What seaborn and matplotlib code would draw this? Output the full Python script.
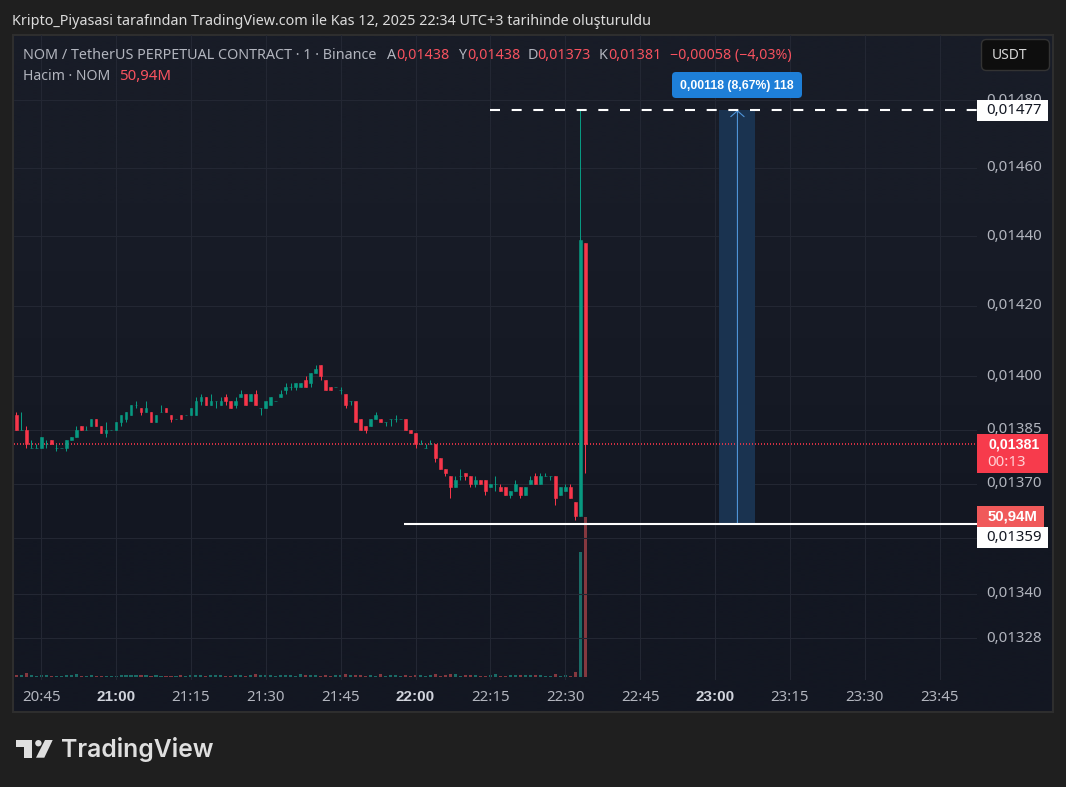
import numpy as np
import pandas as pd
import seaborn as sns
import matplotlib.pyplot as plt
from matplotlib.patches import Rectangle, FancyBboxPatch, Polygon, Circle
from matplotlib.ticker import NullLocator, FixedLocator

# candle data, 20:40 -> 22:34, prices in 1e-5 USDT
opens = [1389,1385,1385,1380,1380,1380,1381,1382,1380,1380,1380,1382,1383,1386,1385,1386,1388,1386,1384,1385,
         1385,1387,1388,1389,1392,1391,1390,1390,1387,1390,1391,1389,1388,1389,1389,1389,1389,1393,1394,1392,
         1393,1392,1394,1393,1392,1394,1395,1393,1395,1391,1391,1392,1393,1394,1396,1397,1397,1397,1399,1398,
         1401,1403,1399,1397,1397,1396,1395,1393,1393,1388,1386,1386,1388,1388,1387,1388,1388,1388,1388,1385,
         1384,1381,1380,1381,1381,1377,1374,1372,1369,1372,1373,1372,1370,1371,1371,1369,1370,1369,1369,1367,
         1368,1369,1367,1370,1372,1370,1372,1372,1372,1367,1368,1369,1365,1361,1438]
highs = [1390,1390,1386,1382,1381,1383,1382,1382,1381,1380,1382,1383,1386,1386,1386,1388,1388,1386,1387,1385,
         1387,1389,1390,1392,1393,1391,1393,1390,1389,1392,1391,1389,1388,1389,1389,1391,1394,1395,1394,1395,
         1393,1394,1395,1393,1394,1396,1395,1395,1396,1391,1393,1394,1393,1396,1398,1398,1398,1398,1400,1401,
         1403,1403,1399,1397,1397,1397,1395,1393,1393,1388,1386,1388,1390,1388,1387,1388,1389,1388,1388,1385,
         1384,1382,1381,1382,1381,1377,1374,1372,1372,1374,1373,1372,1372,1371,1371,1370,1372,1370,1369,1368,
         1371,1369,1369,1372,1373,1373,1373,1372,1372,1369,1370,1370,1365,1477,1438]
lows = [1385,1385,1380,1380,1380,1380,1380,1381,1379,1380,1379,1382,1383,1385,1385,1386,1386,1384,1383,1385,
        1385,1386,1387,1389,1391,1389,1390,1387,1387,1390,1390,1387,1388,1388,1389,1389,1389,1392,1392,1392,
        1391,1392,1392,1391,1391,1394,1392,1393,1392,1389,1391,1392,1393,1394,1395,1396,1396,1397,1397,1397,
        1401,1399,1396,1396,1397,1395,1391,1392,1387,1385,1384,1386,1388,1387,1386,1386,1387,1388,1385,1384,
        1380,1381,1380,1381,1376,1374,1372,1366,1369,1371,1371,1369,1369,1370,1367,1369,1368,1368,1367,1366,
        1368,1366,1367,1370,1370,1370,1372,1371,1364,1367,1368,1366,1360,1361,1373]
closes = [1385,1385,1381,1380,1380,1383,1381,1381,1380,1380,1382,1383,1385,1385,1385,1388,1386,1384,1385,1385,
          1387,1389,1390,1392,1392,1390,1391,1387,1389,1390,1390,1388,1388,1388,1389,1391,1393,1394,1392,1393,
          1393,1393,1393,1391,1393,1395,1392,1395,1392,1391,1393,1394,1393,1395,1397,1397,1398,1398,1397,1401,
          1402,1400,1396,1396,1397,1396,1392,1393,1387,1385,1385,1388,1389,1387,1387,1388,1388,1388,1385,1384,
          1381,1381,1380,1381,1377,1374,1373,1369,1371,1372,1372,1370,1371,1370,1368,1370,1370,1368,1367,1368,
          1370,1367,1369,1371,1370,1372,1372,1372,1366,1369,1369,1366,1361,1439,1381]
# volume in millions
volumes = [.6,.6,1.3,.6,.3,.6,.6,.3,.3,.3,.6,.6,.9,.3,.3,.6,.3,.3,.3,.3,
           .3,.6,.6,.6,.6,.6,.6,.3,.6,.3,.3,.3,.3,.6,.3,.6,.6,.6,.3,.6,
           .6,.6,.3,.3,.6,.6,.3,.6,.9,.6,.6,.6,.3,.6,.6,.6,.3,.9,.6,.6,
           .6,.3,.6,.3,.6,.6,.9,.6,.6,.6,.3,.6,.3,.9,.3,.6,.6,.3,.6,.3,
           .6,.6,.3,.6,.9,.3,.6,.9,.9,.3,.6,.6,.6,.3,.3,.6,.9,.3,.3,.6,
           .6,.6,.6,.6,.6,.6,.3,.3,.9,.3,.6,.3,1.6,39.8,50.94]
first_minute = -5  # minutes after 20:45

price_ticks = [1480, 1460, 1440, 1420, 1400, 1385, 1370, 1355, 1340, 1328]
price_labels = ["0,01480", "0,01460", "0,01440", "0,01420", "0,01400", "0,01385", "0,01370", "", "0,01340", "0,01328"]
time_labels = ["20:45", "21:00", "21:15", "21:30", "21:45", "22:00", "22:15", "22:30", "22:45",
               "23:00", "23:15", "23:30", "23:45"]
last_close = 1381
range_low = 1359
range_high = 1477

GREEN = "#089981"
RED = "#f7364a"
TEXT = "#b2b5be"
FONT = ["Noto Sans", "DejaVu Sans"]
BOLD = ["Liberation Sans", "DejaVu Sans"]
XLIM = (-5.45, 187.5)

df = pd.DataFrame({"open": opens, "high": highs, "low": lows, "close": closes, "volume": volumes})
df[["open", "high", "low", "close"]] /= 1e5
df["minute"] = first_minute + np.arange(len(df))
df["up"] = df["close"] >= df["open"]

sns.set_theme(style="dark")
plt.rcParams["font.family"] = FONT
plt.rcParams["lines.scale_dashes"] = False

fig = plt.figure(figsize=(10.66, 7.87), dpi=100, facecolor="#1f1f1f")
W, H = 1066, 787

# pixel space background
bg = fig.add_axes([0, 0, 1, 1], zorder=0)
grad = np.array([[0.0], [1.0]])
top_c = np.array([0x18, 0x1c, 0x27]) / 255
bot_c = np.array([0x13, 0x17, 0x22]) / 255
bg.imshow((top_c + (bot_c - top_c) * grad[:, :, None]), extent=(13, 1053, 711, 35), aspect="auto", interpolation="bilinear")
bg.set_xlim(0, W)
bg.set_ylim(H, 0)
bg.axis("off")
bg.add_patch(Rectangle((13, 34.5), 1040, 677, fill=False, ec="#2e2e2e", lw=1.5))

pos = [14 / W, 1 - 680 / H, 963 / W, 645 / H]

# volume pane
ax_vol = fig.add_axes(pos, zorder=1)
ax_vol.patch.set_visible(False)
sns.barplot(data=df, x="minute", y="volume", hue="up", palette={True: "#1a6b66", False: "#85383f"},
            native_scale=True, width=0.62, dodge=False, errorbar=None, saturation=1, legend=False,
            linewidth=0, ax=ax_vol)
ax_vol.set_xlim(*XLIM)
ax_vol.set_ylim(-0.955, 204.5)
ax_vol.axis("off")

# price pane
ax = fig.add_axes(pos, zorder=2)
ax.patch.set_visible(False)
ax.set_yscale("log")
for up, sub in df.groupby("up"):
    col = GREEN if up else RED
    ax.vlines(sub["minute"], sub["low"], sub["high"], color=col, lw=0.72, zorder=3)
    bottoms = sub[["open", "close"]].min(axis=1)
    ax.bar(sub["minute"], (sub["close"] - sub["open"]).abs(), bottom=bottoms, width=0.55,
           color=col, edgecolor=col, linewidth=0.4, zorder=4)

ax.set_ylim(0.013169, 0.014995)
ax.set_xlim(*XLIM)
ax.yaxis.tick_right()
ax.yaxis.set_major_locator(FixedLocator([p / 1e5 for p in price_ticks]))
ax.yaxis.set_minor_locator(NullLocator())
ax.set_yticklabels(price_labels, va="center")
ax.set_xticks(np.arange(len(time_labels)) * 15)
ax.set_xticklabels(time_labels)
ax.tick_params(axis="both", length=0, labelsize=10.8, labelcolor=TEXT)
ax.tick_params(axis="x", pad=7)
ax.tick_params(axis="y", pad=7)
for t in ax.get_xticklabels():
    if t.get_text().endswith(":00"):
        t.set_fontfamily(BOLD)
        t.set_fontweight("bold")
        t.set_fontsize(11)
        t.set_color("#d1d4dc")
ax.grid(True, color="#232733", lw=0.8)
ax.set_axisbelow(True)
ax.set_xlabel("")
ax.set_ylabel("")
for s in ax.spines.values():
    s.set_visible(False)

# drawings
ax.add_patch(Rectangle((135.9, range_low / 1e5), 7.2, (range_high - range_low) / 1e5, fc="#1a3350", ec="none", zorder=1.5))
ax.axhline(last_close / 1e5, color="#f7364a", lw=1.2, ls=(0, (0.72, 1.44)), zorder=2)
ax.hlines(range_low / 1e5, 72.7, XLIM[1], color="white", lw=1.5, zorder=6)
ax.hlines(range_high / 1e5, 90, XLIM[1], color="white", lw=1.5, ls=(0, (7.2, 8.4)), zorder=6)
ax.annotate("", xy=(139.5, range_high / 1e5), xytext=(139.5, range_low / 1e5),
            arrowprops=dict(arrowstyle="->,head_length=0.35,head_width=0.4", color="#4f94d8", lw=0.8,
                            shrinkA=0, shrinkB=0), zorder=5)

# overlay labels in pixel space
top = fig.add_axes([0, 0, 1, 1], zorder=5)
top.set_xlim(0, W)
top.set_ylim(H, 0)
top.axis("off")


def label(x, y, s, color=TEXT, size=10, ha="left", weight="normal"):
    fam = BOLD if weight == "bold" else FONT
    top.text(x, y + 1.3, s, color=color, fontsize=size, ha=ha, va="center", fontweight=weight, family=fam)


def box(x0, y0, x1, y1, fc, ec="none", r=0.0):
    if r:
        top.add_patch(FancyBboxPatch((x0, y0), x1 - x0, y1 - y0, boxstyle=f"round,pad=0,rounding_size={r}",
                                     fc=fc, ec=ec, lw=1))
    else:
        top.add_patch(Rectangle((x0, y0), x1 - x0, y1 - y0, fc=fc, ec=ec))


label(12, 20, "Kripto_Piyasasi tarafından TradingView.com ile Kas 12, 2025 22:34 UTC+3 tarihinde oluşturuldu",
      color="#dcdcdc", size=10.35)
label(23, 54, "NOM / TetherUS PERPETUAL CONTRACT · 1 · Binance", size=10.35)
label(23, 75, "Hacim · NOM", size=10.1)
label(119, 75, "50,94M", color="#f7525f", size=10.8)
for x, s in [(387, "A"), (458, "Y"), (528, "D"), (599, "K")]:
    label(x, 54, s, size=10.35)
for x, s in [(396, "0,01438"), (467, "0,01438"), (537, "0,01373"), (608, "0,01381")]:
    label(x, 54, s, color="#f7525f", size=10.3)
label(670, 54, "−0,00058 (−4,03%)", color="#f7525f", size=10.2)

box(981.5, 39.5, 1049.5, 70.5, "#0e0e0e", ec="#333333", r=5)
label(1009.5, 54, "USDT", color="#d6d6d6", size=10, ha="center")

box(672, 72, 802, 98, "#1e7fd8", r=4)
label(737, 84.5, "0,00118 (8,67%) 118", color="white", size=8.8, ha="center", weight="bold")

box(977, 100, 1048, 121, "white")
label(1014, 109.5, "0,01477", color="#131722", size=10.8, ha="center")
box(977, 434, 1048, 473, "#f73b4c")
label(1014, 443, "0,01381", color="white", size=10.2, ha="center", weight="bold")
label(1007, 461, "00:13", color="#ffd0d4", size=10.8, ha="center")
box(977, 506, 1044, 527, "#f0595a")
label(1013, 515, "50,94M", color="white", size=10.8, ha="center", weight="bold")
box(977, 527, 1048, 548, "white")
label(1014, 536, "0,01359", color="#131722", size=10.8, ha="center")

# logo
LOGO = "#dfdfdf"
top.add_patch(Polygon([(15.7, 740), (31.7, 740), (31.7, 757.7), (24, 757.7), (24, 747), (15.7, 747)], fc=LOGO, ec="none"))
top.add_patch(Circle((38.4, 743.2), 3.2, fc=LOGO, ec="none"))
top.add_patch(Polygon([(45, 740), (52.7, 740), (44.3, 757.7), (36, 757.7)], fc=LOGO, ec="none"))
top.text(61, 749.5, "TradingView", color=LOGO, fontsize=17.8, fontweight="semibold", family=["Inter", "DejaVu Sans"],
         ha="left", va="center")

plt.savefig("out.png", dpi=100, facecolor=fig.get_facecolor())
